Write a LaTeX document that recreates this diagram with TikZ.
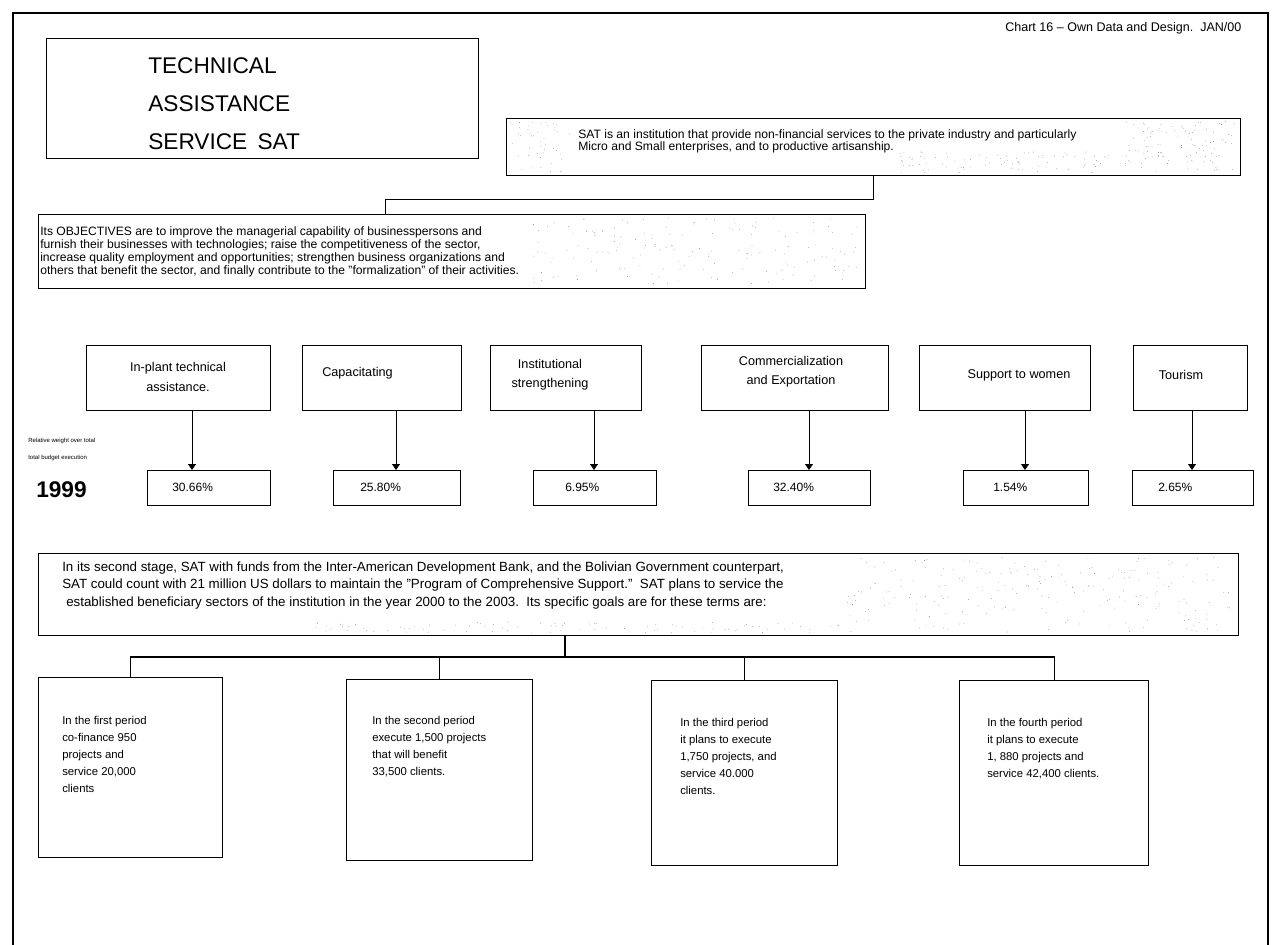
\documentclass[tikz,border=0pt]{standalone}
\usepackage{fontspec}
\setmainfont{Liberation Sans}
\usetikzlibrary{arrows.meta,calc}

% scattered grain inside the shaded text panels: x0 y0 width height count
\newcommand\speckle[5]{%
  \foreach \i in {1,...,#5}{%
    \pgfmathsetmacro\gx{#1+#3*rnd}%
    \pgfmathsetmacro\gy{#2+#4*rnd}%
    \fill[black!50] (\gx,\gy) circle[radius=0.3pt];}}

\begin{document}
\begin{tikzpicture}[x=0.75pt,y=-0.75pt,
  frame/.style={line width=1pt},
  box/.style={draw, line width=1pt, inner sep=0pt, anchor=north west},
  wh/.style 2 args={minimum width=#1*0.75pt, minimum height=#2*0.75pt},
  link/.style={line width=0.8pt},
  arr/.style={line width=0.6pt, -{Triangle[width=6pt,length=4.5pt]}},
  body/.style={inner sep=0pt, anchor=north west, align=left},
  title/.style={body, font=\fontsize{17}{28.5}\selectfont},
  note/.style={inner sep=0pt, anchor=west, font=\fontsize{9.4}{10}\selectfont},
  para/.style={body, font=\fontsize{9.1}{9.75}\selectfont},
  intro/.style={body, font=\fontsize{9.1}{8.4}\selectfont},
  stage/.style={body, font=\fontsize{10}{13}\selectfont},
  cat/.style={inner sep=0pt, align=center, font=\fontsize{9.5}{14.5}\selectfont},
  pct/.style={inner sep=0pt, anchor=west, font=\fontsize{9}{10}\selectfont},
  tiny/.style={inner sep=0pt, anchor=west, font=\fontsize{4.5}{5}\selectfont},
  goal/.style={body, font=\fontsize{8.5}{12.75}\selectfont}
]
\useasboundingbox (0,0) rectangle (1272,945);

% page frame, open at the foot
\draw[frame] (13,945) -- (13,13) -- (1268,13) -- (1268,945);

% heading
\node[box, wh={432}{120}] (head) at (46,38) {};
\node[title] (headT) at (148,57) {TECHNICAL\\ASSISTANCE\\SERVICE\hspace{0.45em}SAT};
\node[note] (src) at (1005,28) {Chart 16 – Own Data and Design.~~JAN/00};

% mission
\node[box, wh={734}{57}] (sat) at (506,118) {};
\node[intro] (satT) at (578,129) {SAT is an institution that provide non-financial services to the private industry and particularly\\Micro and Small enterprises, and to productive artisanship.};

% objectives
\node[box, wh={827}{74}] (obj) at (38,214) {};
\node[para] (objT) at (40,226.5) {Its OBJECTIVES are to improve the managerial capability of businesspersons and\\furnish their businesses with technologies; raise the competitiveness of the sector,\\increase quality employment and opportunities; strengthen business organizations and\\others that benefit the sector, and finally contribute to the "formalization" of their activities.};

\draw[link] (sat.south) -- ++(0,23) -| ([xshift=-50pt]obj.north);

% service lines
\node[box, wh={184}{65}] (c1) at (86,345) {};
\node[box, wh={159}{65}] (c2) at (302,345) {};
\node[box, wh={151}{65}] (c3) at (490,345) {};
\node[box, wh={187}{65}] (c4) at (701,345) {};
\node[box, wh={171}{65}] (c5) at (919,345) {};
\node[box, wh={114}{65}] (c6) at (1133,345) {};

\node[cat] (c1T) at (178,377) {In-plant technical\\assistance.};
\node[cat, anchor=west] (c2T) at (322,373) {Capacitating};
\node[cat] (c3T) at (550,375) {Institutional\\strengthening};
\node[cat] (c4T) at (791,372) {Commercialization\\and Exportation};
\node[cat] (c5T) at (1019,375) {Support to women};
\node[cat] (c6T) at (1181,375) {Tourism};

% 1999 shares
\node[box, wh={123}{35}] (p1) at (147,470) {};
\node[box, wh={127}{35}] (p2) at (333,470) {};
\node[box, wh={123}{35}] (p3) at (533,470) {};
\node[box, wh={122}{35}] (p4) at (748,470) {};
\node[box, wh={125}{35}] (p5) at (963,470) {};
\node[box, wh={121}{35}] (p6) at (1132,470) {};

\node[pct] (p1T) at (172,487) {30.66\%};
\node[pct] (p2T) at (360,487) {25.80\%};
\node[pct] (p3T) at (565,487) {6.95\%};
\node[pct] (p4T) at (773,487) {32.40\%};
\node[pct] (p5T) at (993,487) {1.54\%};
\node[pct] (p6T) at (1158,487) {2.65\%};

\draw[arr] (c1.south -| 192,0) -- (p1.north -| 192,0);
\draw[arr] (c2.south -| 396,0) -- (p2.north -| 396,0);
\draw[arr] (c3.south -| 594,0) -- (p3.north -| 594,0);
\draw[arr] (c4.south -| 809,0) -- (p4.north -| 809,0);
\draw[arr] (c5.south -| 1025,0) -- (p5.north -| 1025,0);
\draw[arr] (c6.south -| 1192,0) -- (p6.north -| 1192,0);

\node[tiny] (rw1) at (28,441) {Relative weight over total};
\node[tiny] (rw2) at (28,458) {total budget execution};
\node[inner sep=0pt, anchor=west, font=\bfseries\fontsize{17}{18}\selectfont] (yr) at (36,490) {1999};

% second stage
\node[box, wh={1200}{82}] (st) at (38,553) {};
\node[stage] (stT) at (62,561.5) {In its second stage, SAT with funds from the Inter-American Development Bank, and the Bolivian Government counterpart,\\SAT could count with 21 million US dollars to maintain the "Program of Comprehensive Support."~~SAT plans to service the\\\hspace{3pt}established beneficiary sectors of the institution in the year 2000 to the 2003.~~Its specific goals are for these terms are:};

% goals per period
\node[box, wh={184}{180}] (g1) at (38,677) {};
\node[box, wh={186}{181}] (g2) at (346,679) {};
\node[box, wh={186}{185}] (g3) at (651,680) {};
\node[box, wh={189}{185}] (g4) at (959,680) {};

\coordinate (hub) at (565,657);
\draw[link] (st.south -| hub) -- (hub);
\draw[link] (g1.north) -- (g1.north |- hub) -- (g4.north |- hub) -- (g4.north);
\draw[link] (g2.north) -- (g2.north |- hub);
\draw[link] (g3.north) -- (g3.north |- hub);

\node[goal] (g1T) at (62,716) {In the first period\\co-finance 950\\projects and\\service 20,000\\clients};
\node[goal] (g2T) at (372,716) {In the second period\\execute 1,500 projects\\that will benefit\\33,500 clients.};
\node[goal] (g3T) at (680,718) {In the third period\\it plans to execute\\1,750 projects, and\\service 40.000\\clients.};
\node[goal] (g4T) at (987,718) {In the fourth period\\it plans to execute\\1, 880 projects and\\service 42,400 clients.};

% grain in the shaded panels
\pgfmathsetseed{11}
\speckle{1125}{121}{110}{51}{110}
\speckle{900}{152}{210}{21}{90}
\speckle{510}{122}{60}{50}{45}
\speckle{530}{218}{330}{66}{160}
\speckle{845}{557}{388}{75}{220}
\speckle{300}{622}{540}{11}{90}
\end{tikzpicture}
\end{document}
